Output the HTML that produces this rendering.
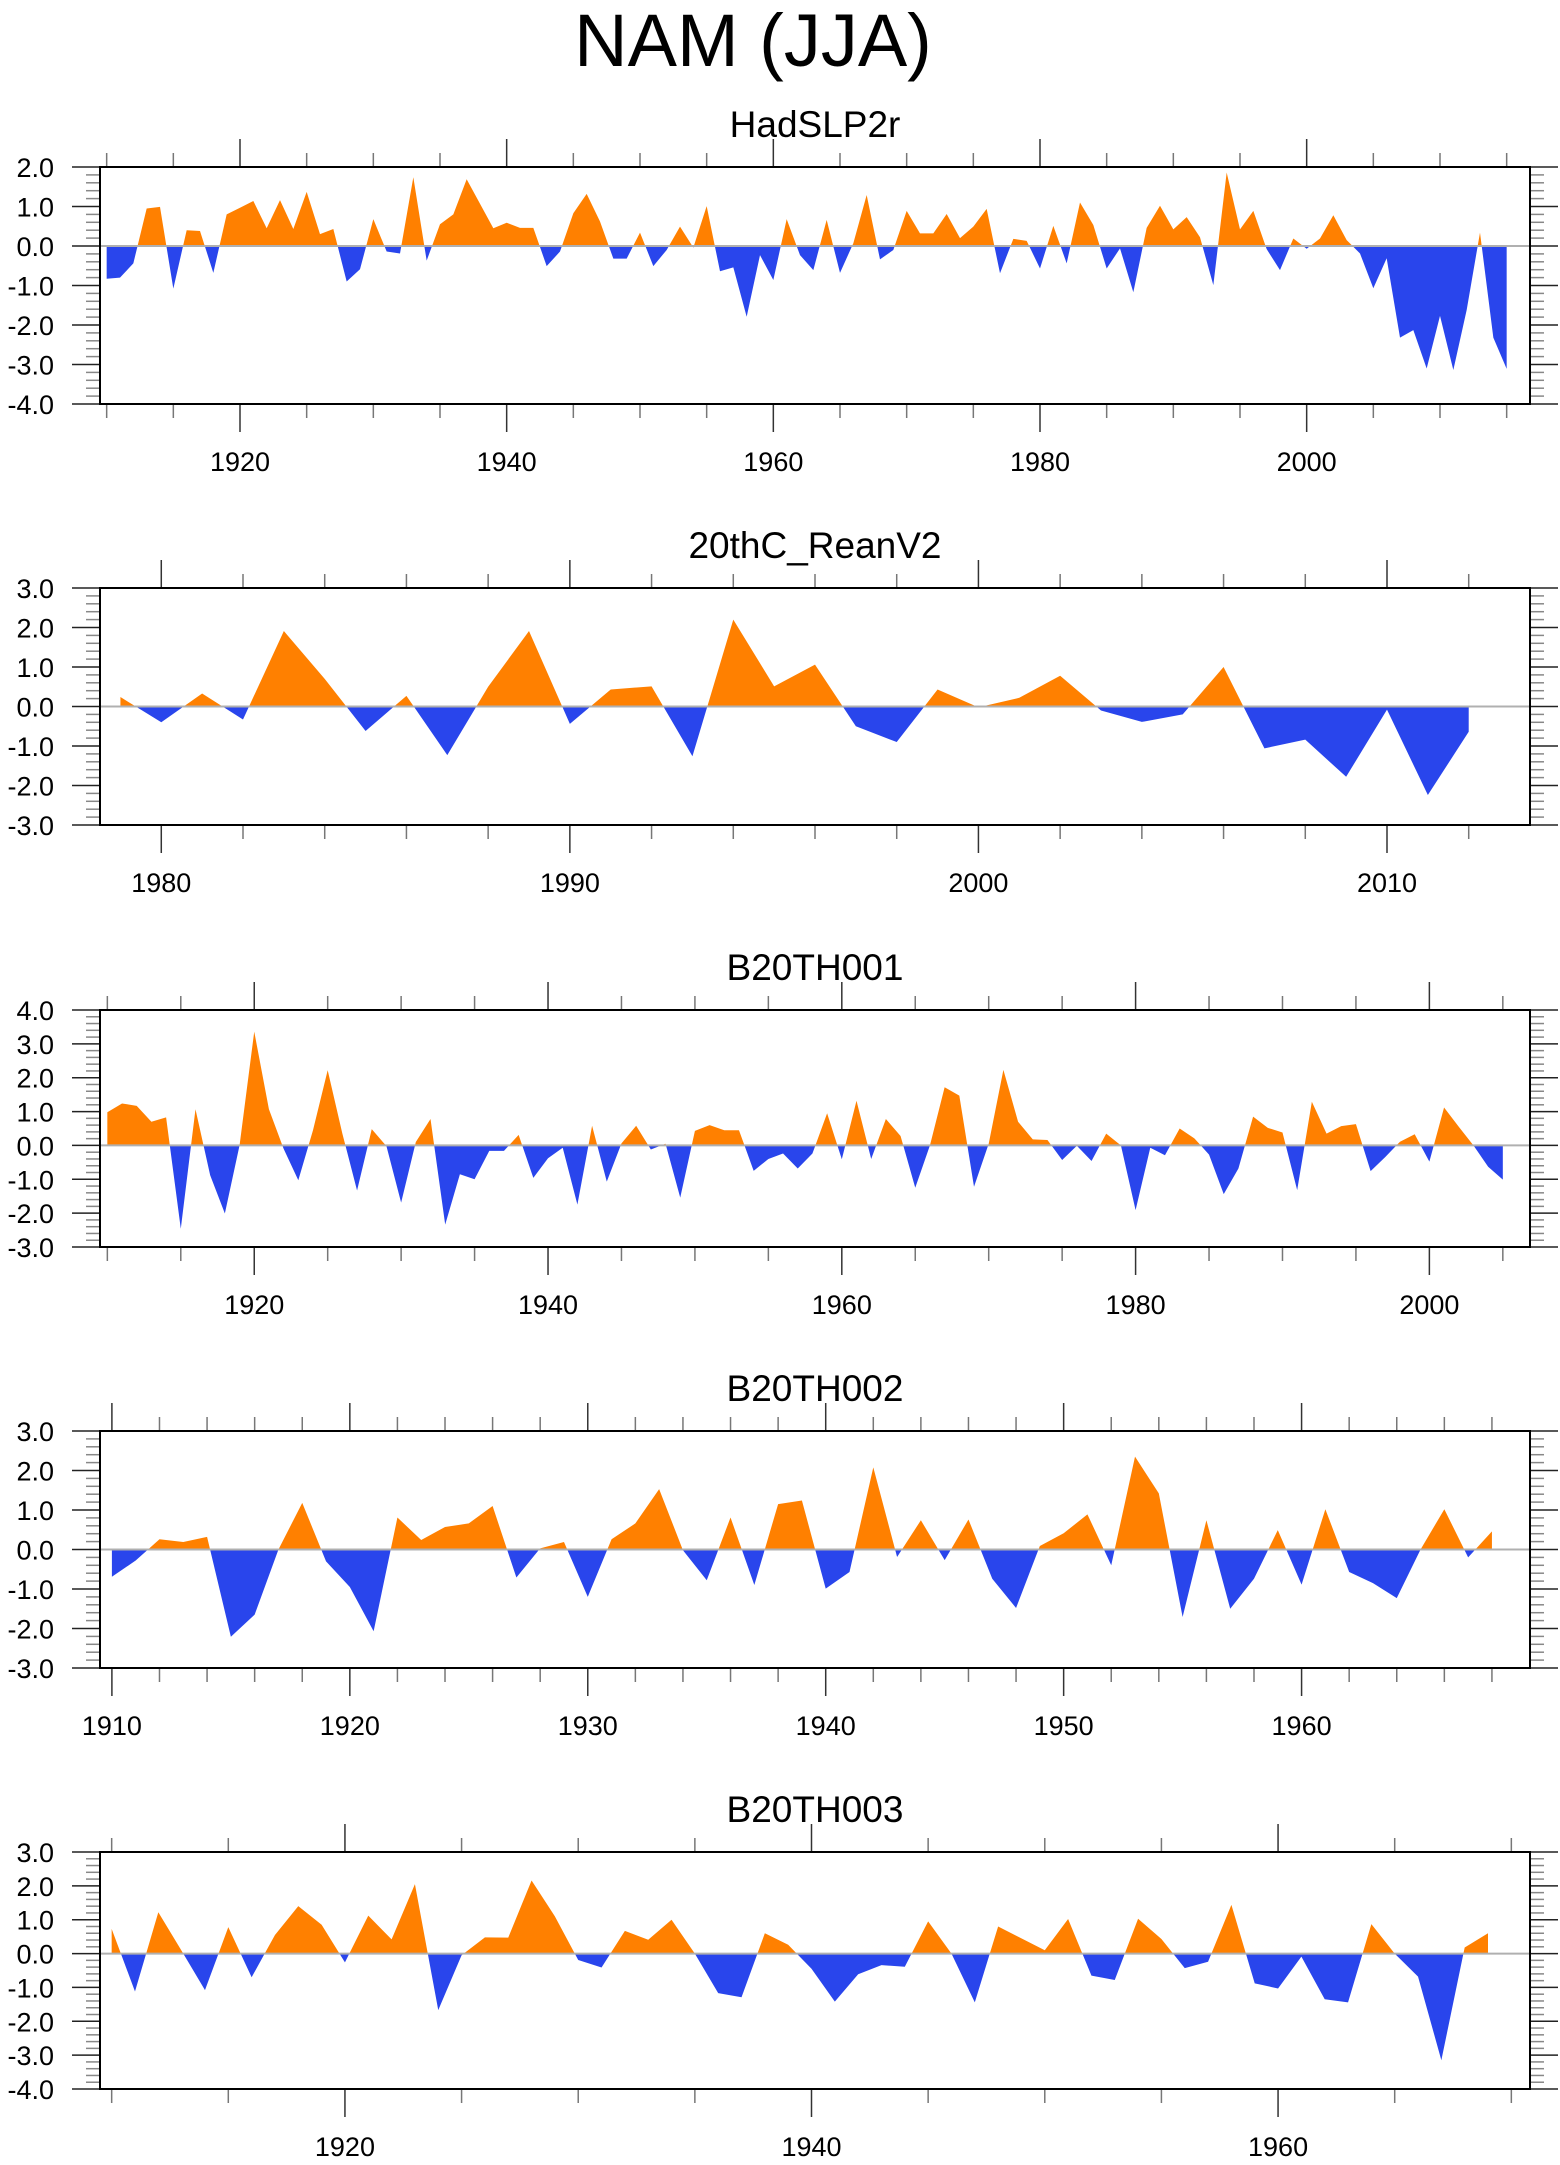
<!DOCTYPE html>
<html><head><meta charset="utf-8"><title>NAM (JJA)</title>
<style>
html,body{margin:0;padding:0;background:#fff;}
svg{display:block;font-family:"Liberation Sans",Arial,sans-serif;}
</style></head>
<body>
<svg id="chart" width="1560" height="2165" viewBox="0 0 1560 2165" xmlns="http://www.w3.org/2000/svg">
<text x="753" y="66" font-size="74" text-anchor="middle" fill="#000">NAM (JJA)</text>
</svg>
<script>
// ---- data ----
const titles = ["HadSLP2r", "20thC_ReanV2", "B20TH001", "B20TH002", "B20TH003"];
const startYears = [1910, 1979, 1910, 1910, 1910];
const hadslp2r = [-0.83,-0.80,-0.44,0.95,0.99,-1.08,0.40,0.38,-0.68,0.80,0.97,1.14,0.45,1.16,0.43,1.37,0.30,0.43,-0.90,-0.59,0.68,-0.14,-0.19,1.74,-0.37,0.55,0.80,1.69,1.07,0.45,0.59,0.46,0.46,-0.51,-0.14,0.83,1.32,0.62,-0.32,-0.32,0.34,-0.51,-0.10,0.49,-0.04,1.01,-0.64,-0.54,-1.79,-0.23,-0.86,0.68,-0.23,-0.61,0.66,-0.68,0.07,1.29,-0.34,-0.10,0.89,0.32,0.32,0.81,0.20,0.49,0.94,-0.69,0.18,0.13,-0.57,0.51,-0.44,1.10,0.53,-0.57,-0.06,-1.17,0.46,1.02,0.42,0.73,0.22,-0.99,1.86,0.42,0.89,-0.08,-0.61,0.19,-0.07,0.19,0.78,0.15,-0.19,-1.07,-0.31,-2.32,-2.13,-3.10,-1.77,-3.14,-1.62,0.34,-2.32,-3.11];
const reanv2 = [0.24,-0.40,0.33,-0.33,1.91,0.70,-0.62,0.27,-1.23,0.50,1.91,-0.44,0.43,0.51,-1.26,2.20,0.51,1.06,-0.50,-0.90,0.43,-0.02,0.22,0.78,-0.10,-0.39,-0.20,1.00,-1.06,-0.84,-1.78,-0.08,-2.24,-0.64];
const b20th001 = [0.98,1.24,1.17,0.70,0.83,-2.46,1.07,-0.88,-2.01,0.0,3.36,1.07,-0.10,-1.03,0.45,2.22,0.35,-1.33,0.48,-0.02,-1.69,0.10,0.78,-2.34,-0.85,-1.00,-0.16,-0.16,0.31,-0.96,-0.38,-0.07,-1.75,0.58,-1.07,0.06,0.58,-0.12,0.05,-1.54,0.43,0.60,0.45,0.45,-0.75,-0.40,-0.24,-0.68,-0.24,0.95,-0.41,1.32,-0.40,0.78,0.28,-1.25,0.0,1.72,1.47,-1.22,0.05,2.23,0.70,0.18,0.16,-0.43,-0.01,-0.46,0.35,0.0,-1.91,-0.07,-0.29,0.50,0.21,-0.27,-1.44,-0.68,0.85,0.52,0.38,-1.32,1.29,0.35,0.57,0.63,-0.76,-0.34,0.11,0.33,-0.48,1.12,0.55,0.0,-0.63,-1.01];
const b20th002 = [-0.69,-0.28,0.26,0.19,0.32,-2.21,-1.65,0.0,1.18,-0.30,-0.95,-2.07,0.81,0.24,0.57,0.66,1.10,-0.71,0.03,0.19,-1.20,0.26,0.66,1.53,-0.02,-0.78,0.81,-0.90,1.15,1.24,-0.99,-0.57,2.08,-0.19,0.74,-0.27,0.76,-0.74,-1.48,0.09,0.41,0.89,-0.40,2.35,1.42,-1.71,0.74,-1.50,-0.74,0.49,-0.89,1.02,-0.57,-0.85,-1.23,0.0,1.02,-0.20,0.46];
const b20th003 = [0.73,-1.12,1.22,0.08,-1.08,0.78,-0.70,0.55,1.40,0.85,-0.26,1.12,0.42,2.05,-1.67,-0.05,0.48,0.47,2.16,1.10,-0.19,-0.41,0.67,0.41,1.00,0.0,-1.17,-1.29,0.60,0.26,-0.45,-1.42,-0.61,-0.34,-0.39,0.95,0.0,-1.44,0.80,0.45,0.10,1.02,-0.65,-0.78,1.03,0.43,-0.43,-0.24,1.44,-0.88,-1.03,-0.09,-1.35,-1.44,0.87,0.0,-0.68,-3.15,0.18,0.60];
const yMins = [-4, -3, -3, -3, -4];
const yMaxs = [2, 3, 4, 3, 3];
const xMins = [1909.5, 1978.5, 1909.5, 1909.5, 1909.5];
const xMaxs = [2016.75, 2013.5, 2006.85, 1969.6, 1970.8];
const majorSteps = [20, 10, 20, 10, 20];
const minorSteps = [5, 2, 5, 2, 5];
const seriesList = [hadslp2r, reanv2, b20th001, b20th002, b20th003];

// ---- layout ----
const NS = "http://www.w3.org/2000/svg";
const svg = document.getElementById("chart");
const L = 100, R = 1530, H = 237;
const tops = [167, 588, 1010, 1431, 1852];
const ORANGE = "#FF8000", BLUE = "#2945EC";

function mk(tag, attrs, parent) {
  const e = document.createElementNS(NS, tag);
  for (const k in attrs) e.setAttribute(k, attrs[k]);
  (parent || svg).appendChild(e);
  return e;
}

for (let p = 0; p < 5; p++) {
  const top = tops[p], bot = top + H;
  const vals = seriesList[p];
  const x0 = xMins[p], x1 = xMaxs[p], y0 = yMins[p], y1 = yMaxs[p];
  const sx = v => L + (v - x0) / (x1 - x0) * (R - L);
  const sy = v => bot - (v - y0) / (y1 - y0) * H;
  const g = mk("g", {});
  
  

  const t = mk("text", {x: (L + R) / 2, y: top - 30, "font-size": 37, "text-anchor": "middle", fill: "#000"}, g);
  t.textContent = titles[p];
  
  

  const zy = sy(0);
  let d = "M" + sx(startYears[p]) + "," + zy;
  vals.forEach((v, i) => { d += " L" + sx(startYears[p] + i).toFixed(2) + "," + sy(v).toFixed(2); });
  d += " L" + sx(startYears[p] + vals.length - 1) + "," + zy + " Z";
  const cpA = mk("clipPath", {id: "above" + p}, g);
  mk("rect", {x: L, y: top, width: R - L, height: zy - top}, cpA);
  const cpB = mk("clipPath", {id: "below" + p}, g);
  mk("rect", {x: L, y: zy, width: R - L, height: bot - zy}, cpB);
  const pos = mk("path", {d: d, fill: ORANGE, "clip-path": "url(#above" + p + ")"}, g);
  
  
  const neg = mk("path", {d: d, fill: BLUE, "clip-path": "url(#below" + p + ")"}, g);
  
  

  const zl = mk("line", {x1: L, x2: R, y1: zy, y2: zy, stroke: "#b0b0b0", "stroke-width": 2}, g);
  
  

  const ms = minorSteps[p], Ms = majorSteps[p];
  for (let yr = Math.ceil(x0 / ms) * ms; yr <= x1; yr += ms) {
    const x = sx(yr), major = yr % Ms === 0, len = major ? 28 : 14;
    mk("line", {x1: x, x2: x, y1: top - len, y2: top, stroke: major ? "#333" : "#777", "stroke-width": 1.5}, g);
    mk("line", {x1: x, x2: x, y1: bot, y2: bot + len, stroke: major ? "#333" : "#777", "stroke-width": 1.5}, g);
    if (major) {
      const lb = mk("text", {x: x, y: bot + 67, "font-size": 27, "text-anchor": "middle", fill: "#000"}, g);
      lb.textContent = yr;
      
      
    }
  }
  for (let k = Math.round(y0 * 5); k <= Math.round(y1 * 5); k++) {
    const v = k / 5, y = sy(v), major = k % 5 === 0, len = major ? 28 : 14;
    mk("line", {x1: L - len, x2: L, y1: y, y2: y, stroke: major ? "#222" : "#888", "stroke-width": 1.5}, g);
    mk("line", {x1: R, x2: R + len, y1: y, y2: y, stroke: major ? "#222" : "#888", "stroke-width": 1.5}, g);
    if (major) {
      const lb = mk("text", {x: 54, y: y + 10, "font-size": 27, "text-anchor": "end", fill: "#000"}, g);
      lb.textContent = v.toFixed(1);
      
      
    }
  }
  const fr = mk("rect", {x: L, y: top, width: R - L, height: H, fill: "none", stroke: "#000", "stroke-width": 2}, g);
  
  
}
</script>
</body></html>
